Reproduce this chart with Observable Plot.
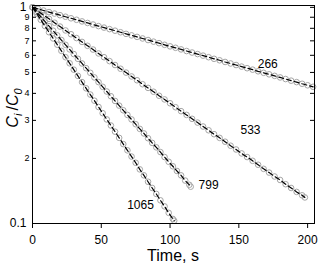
<!DOCTYPE html>
<html><head><meta charset="utf-8">
<script src="https://cdn.jsdelivr.net/npm/d3@7"></script>
<script src="https://cdn.jsdelivr.net/npm/@observablehq/plot@0.6"></script>
<style>body{margin:0;background:#fff} svg{display:block}</style>
</head><body><div id="chart"></div>
<script>
const t266 = [0,4,8,12,16,20,24,28,32,36,40,44,48,52,56,60,64,68,72,76,80,84,88,92,96,100,104,108,112,116,120,124,128,132,136,140,144,148,152,156,160,164,168,172,176,180,184,188,192,196,200,204];
const c266 = [1.000,0.984,0.967,0.951,0.936,0.920,0.905,0.890,0.876,0.861,
  0.847,0.833,0.819,0.806,0.793,0.780,0.767,0.754,0.742,0.730,
  0.718,0.706,0.694,0.683,0.671,0.660,0.650,0.639,0.628,0.618,
  0.608,0.598,0.588,0.578,0.569,0.559,0.550,0.541,0.532,0.523,
  0.515,0.506,0.498,0.490,0.482,0.474,0.466,0.458,0.451,0.443,
  0.436,0.429];
const t533 = [0,4,8,12,16,20,24,28,32,36,40,44,48,52,56,60,64,68,72,76,80,84,88,92,96,100,104,108,112,116,120,124,128,132,136,140,144,148,152,156,160,164,168,172,176,180,184,188,192,196,198];
const c533 = [1.000,0.960,0.921,0.885,0.849,0.815,0.782,0.751,0.721,0.692,
  0.664,0.638,0.612,0.588,0.564,0.541,0.520,0.499,0.479,0.460,
  0.441,0.424,0.407,0.390,0.375,0.360,0.345,0.331,0.318,0.305,
  0.293,0.281,0.270,0.259,0.249,0.239,0.229,0.220,0.211,0.203,
  0.195,0.187,0.179,0.172,0.165,0.159,0.152,0.146,0.140,0.135,
  0.132];
const t799 = [0,3,6,9,12,15,18,21,24,27,30,33,36,39,42,45,48,51,54,57,60,63,66,69,72,75,78,81,84,87,90,93,96,99,102,105,108,111,114,115];
const c799 = [1.000,0.951,0.905,0.861,0.819,0.780,0.742,0.706,0.671,0.639,
  0.608,0.578,0.550,0.523,0.498,0.474,0.451,0.429,0.408,0.388,
  0.369,0.351,0.334,0.318,0.303,0.288,0.274,0.261,0.248,0.236,
  0.225,0.214,0.203,0.193,0.184,0.175,0.167,0.158,0.151,0.148];
const t1065 = [0,3,6,9,12,15,18,21,24,27,30,33,36,39,42,45,48,51,54,57,60,63,66,69,72,75,78,81,84,87,90,93,96,99,102,103];
const c1065 = [1.000,0.936,0.876,0.820,0.767,0.718,0.672,0.629,0.588,0.551,
  0.515,0.482,0.451,0.422,0.395,0.370,0.346,0.324,0.303,0.284,
  0.266,0.249,0.233,0.218,0.204,0.191,0.178,0.167,0.156,0.146,
  0.137,0.128,0.120,0.112,0.105,0.103];

const seriesNames = ["266","533","799","1065"];
const labelT = [171, 158.5, 128, 78.5];
const labelC = [0.545, 0.269, 0.1507, 0.1218];

const xTicks = [0,50,100,150,200];
const yMajor = [0.1, 1];
const yMinor = [0.2,0.3,0.4,0.5,0.6,0.7,0.8,0.9];
const yMinorText = ["2","3","4","5","6","7","8","9"];

const series = [[t266,c266],[t533,c533],[t799,c799],[t1065,c1065]];
const rows = series.flatMap(([ts,cs],k) => ts.map((t,i) => ({series: seriesNames[k], t, c: cs[i]})));
const labels = seriesNames.map((s,i) => ({s, t: labelT[i], c: labelC[i]}));
const minorRows = yMinor.map((v,i) => ({v, s: yMinorText[i]}));
const yAll = yMajor.concat(yMinor);

const svg = Plot.plot({
  width: 320, height: 267,
  marginLeft: 32, marginRight: 6, marginTop: 5, marginBottom: 44,
  style: {fontFamily: "'Liberation Sans', Arial, sans-serif", background: "white", color: "black"},
  x: {domain: [0, 205]},
  y: {type: "log", domain: [0.1, 1.02]},
  marks: [
    Plot.dot(rows, {x: "t", y: "c", r: 2.8, stroke: "#a6a6a6", strokeWidth: 1, fill: "none"}),
    Plot.line(rows, {x: "t", y: "c", z: "series", stroke: "black", strokeWidth: 1.2, strokeDasharray: "5,3"}),
    Plot.tickY(yAll, {y: d => d, insetRight: 278, stroke: "black"}),
    Plot.tickY(yAll, {y: d => d, insetLeft: 278, stroke: "black"}),
    Plot.axisY(yMajor, {tickSize: 0, tickPadding: 6, fontSize: 12, tickFormat: d => d === 1 ? "1" : "0.1", label: null}),
    Plot.text(minorRows, {y: "v", text: "s", frameAnchor: "left", dx: -3, textAnchor: "end", fontSize: 9, fill: "black"}),
    Plot.axisX(xTicks, {tickSize: 5, tickPadding: 7, fontSize: 12, label: null}),
    Plot.frame({stroke: "black"}),
    Plot.text(labels, {x: "t", y: "c", text: "s", fontSize: 12, fill: "black"})
  ]
});
document.getElementById("chart").appendChild(svg);

const s = d3.select(svg);
const yl = s.append("text")
  .attr("transform", "translate(18,108) rotate(-90)")
  .attr("text-anchor", "middle")
  .attr("font-size", 16)
  .attr("fill", "black");
yl.append("tspan").attr("font-style", "italic").text("C");
yl.append("tspan").attr("font-style", "italic").attr("font-size", 11).attr("dy", 4).text("i");
yl.append("tspan").attr("dy", -4).text("\u2009/");
yl.append("tspan").attr("font-style", "italic").text("C");
yl.append("tspan").attr("font-style", "italic").attr("font-size", 11).attr("dy", 4).text("0");

s.append("text")
  .attr("x", 173).attr("y", 261)
  .attr("text-anchor", "middle")
  .attr("font-size", 16)
  .attr("fill", "black")
  .text("Time, s");
</script>
</body></html>
